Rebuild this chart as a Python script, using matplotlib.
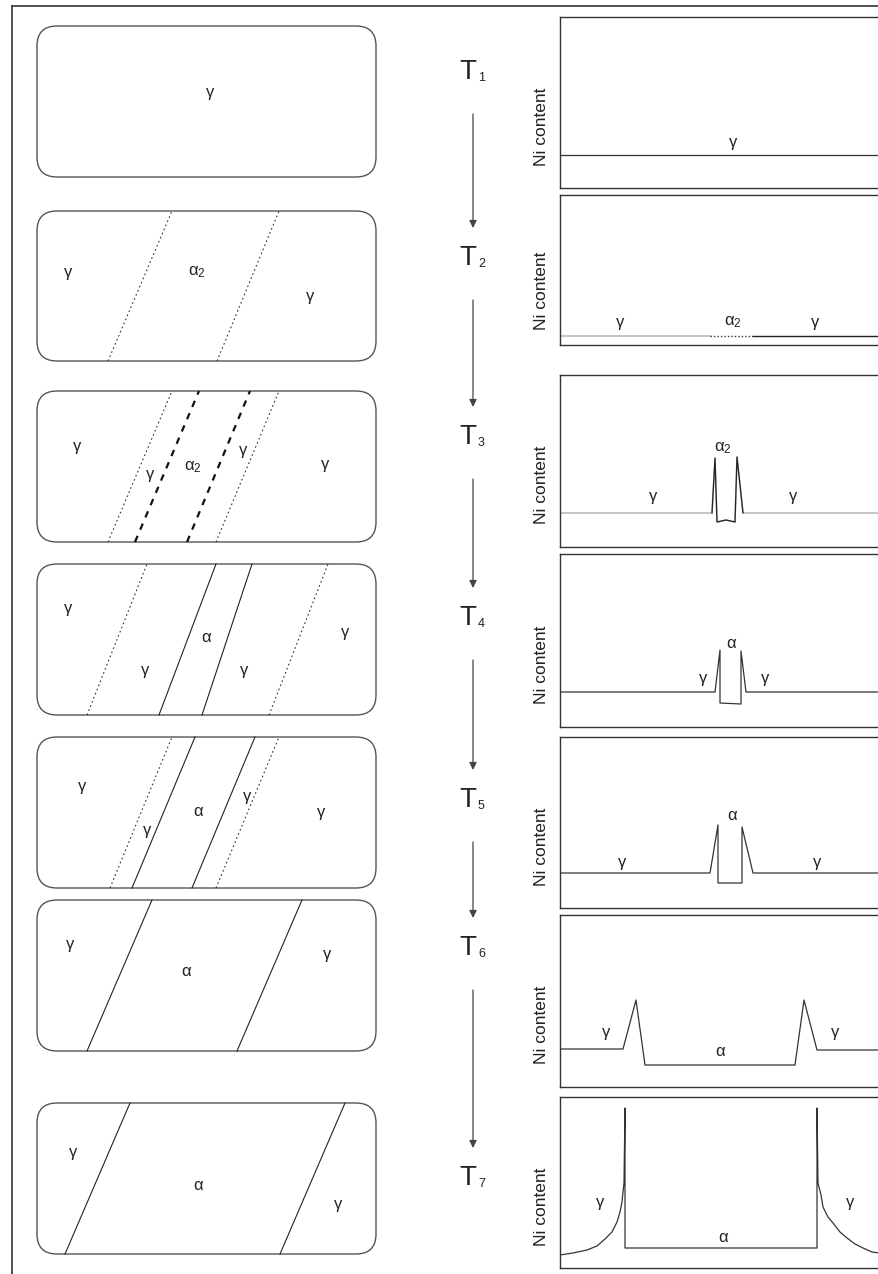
import matplotlib
matplotlib.use('Agg')
import matplotlib.pyplot as plt
from matplotlib.patches import FancyBboxPatch

plt.rcParams['font.family'] = ['Liberation Sans', 'DejaVu Sans']
plt.rcParams['mathtext.fontset'] = 'custom'
plt.rcParams['mathtext.rm'] = 'Liberation Sans'
plt.rcParams['mathtext.it'] = 'Liberation Sans:italic'

W, H = 879, 1274

# stage names
steps = ['1', '2', '3', '4', '5', '6', '7']

# left sketches: interface lines (position at bottom / top of the grain), and their kind
bound_bottom = [[], [71, 180], [71, 98, 150, 179], [50, 122, 165, 232],
                [73, 95, 155, 179], [50, 200], [28, 243]]
bound_top = [[], [135, 242], [135, 162, 213, 242], [110, 179, 215, 291],
             [135, 158, 218, 242], [115, 265], [93, 308]]
bound_kind = [[], ['dot', 'dot'], ['dot', 'dash', 'dash', 'dot'],
              ['dot', 'solid', 'solid', 'dot'], ['dot', 'solid', 'solid', 'dot'],
              ['solid', 'solid'], ['solid', 'solid']]

A2 = r'α$_\mathrm{2}$'
left_labels = [
    [('γ', 173, 85)],
    [('γ', 31, 89), (A2, 160, 89), ('γ', 273, 64)],
    [('γ', 40, 95), ('γ', 113, 67), (A2, 156, 75), ('γ', 206, 92), ('γ', 288, 77)],
    [('γ', 31, 107), ('γ', 108, 45), ('α', 169, 77), ('γ', 207, 45), ('γ', 308, 83)],
    [('γ', 45, 101), ('γ', 110, 57), ('α', 161, 76), ('γ', 210, 91), ('γ', 284, 76)],
    [('γ', 33, 106), ('α', 149, 79), ('γ', 290, 96)],
    [('γ', 36, 102), ('α', 161, 69), ('γ', 301, 49)],
]

# right: Ni content profiles (distance, Ni level)
prof_x = [
    [0, 325],
    [0, 150, 193, 325],
    [0, 152, 155, 157, 166, 175, 177, 183, 325],
    [0, 155, 160, 160, 181, 181, 186, 325],
    [0, 150, 158, 158, 182, 182, 193, 325],
    [0, 63, 76, 85, 235, 244, 257, 325],
    [0, 13, 27, 37, 45, 52, 57, 60, 62, 63, 64, 65, 65,
     257, 257, 258, 261, 263, 268, 273, 280, 287, 295, 303, 312, 319, 325],
]
prof_y = [
    [33, 33],
    [9, 9, 9, 9],
    [34, 34, 89, 25, 27, 25, 90, 34, 34],
    [35, 35, 77, 24, 23, 76, 35, 35],
    [35, 35, 83, 25, 25, 81, 35, 35],
    [38, 38, 87, 22, 22, 87, 37, 37],
    [13, 15, 18, 22, 29, 36, 46, 56, 66, 76, 85, 160, 20,
     20, 160, 85, 73, 61, 51, 45, 36, 30, 24, 20, 16, 15, 14],
]
right_labels = [
    [('γ', 173, 46)],
    [('γ', 60, 23), (A2, 173, 23), ('γ', 255, 23)],
    [(A2, 163, 99), ('γ', 93, 50), ('γ', 233, 50)],
    [('α', 171, 84), ('γ', 143, 49), ('γ', 205, 49)],
    [('α', 172, 92), ('γ', 62, 46), ('γ', 257, 46)],
    [('γ', 46, 54), ('α', 160, 35), ('γ', 275, 54)],
    [('γ', 40, 66), ('α', 163, 31), ('γ', 290, 66)],
]

# layout in pixels (top, bottom)
left_box = [(26, 177), (211, 361), (391, 542), (564, 715), (737, 888), (900, 1051), (1103, 1254)]
right_box = [(17, 188), (195, 345), (375, 547), (554, 727), (737, 908), (915, 1087), (1097, 1268)]
t_y = [72, 258, 437, 618, 800, 948, 1178]
LX0, LX1 = 37, 376
RX0, RX1 = 560, 885
TX = 473

fig = plt.figure(figsize=(W / 100, H / 100), dpi=100)


def px_axes(x0, x1, top, bottom):
    return fig.add_axes([x0 / W, 1 - bottom / H, (x1 - x0) / W, (bottom - top) / H])


bg = fig.add_axes([0, 0, 1, 1])
bg.set_xlim(0, W)
bg.set_ylim(H, 0)
bg.axis('off')
bg.plot([12, 12], [6, H], color='#333', lw=1.2)
bg.plot([12, W], [6, 6], color='#333', lw=1.2)

line_style = {
    'dot': dict(ls=(0, (1.5, 2.5)), lw=0.8, color='#333'),
    'dash': dict(ls=(0, (3, 3)), lw=1.6, color='#111'),
    'solid': dict(ls='-', lw=0.8, color='#222'),
}

for i in range(len(steps)):
    # left sketch
    top, bot = left_box[i]
    w, h = LX1 - LX0, bot - top
    ax = px_axes(LX0, LX1, top, bot)
    ax.set_xlim(0, w)
    ax.set_ylim(0, h)
    ax.axis('off')
    ax.add_patch(FancyBboxPatch((0, 0), w, h, boxstyle='round,pad=0,rounding_size=20',
                                fc='none', ec='#555', lw=1.0, clip_on=False))
    for xb, xt, k in zip(bound_bottom[i], bound_top[i], bound_kind[i]):
        ax.plot([xb, xt], [0, h], clip_on=False, **line_style[k])
    for txt, x, y in left_labels[i]:
        ax.text(x, y, txt, ha='center', va='center', fontsize=12, color='#222')

    # temperature label and arrow
    bg.text(TX - 5, t_y[i], 'T', ha='center', va='center', fontsize=20, color='#222')
    bg.text(TX + 5, t_y[i] + 6, steps[i], ha='left', va='center', fontsize=9, color='#222')
    if i < len(steps) - 1:
        bg.annotate('', xy=(TX, t_y[i + 1] - 30), xytext=(TX, t_y[i] + 42),
                    arrowprops=dict(arrowstyle='-|>', color='#444', lw=0.9,
                                    mutation_scale=11, shrinkA=0, shrinkB=0))

    # right profile
    top, bot = right_box[i]
    h = bot - top
    ax = px_axes(RX0, RX1, top, bot)
    ax.set_xlim(0, RX1 - RX0)
    ax.set_ylim(0, h)
    ax.set_xticks([])
    ax.set_yticks([])
    for s in ax.spines.values():
        s.set_color('#333')
        s.set_linewidth(1.0)
    ax.spines['right'].set_visible(False)
    px, py = prof_x[i], prof_y[i]
    if i == 1:
        ax.plot(px[0:2], py[0:2], color='#bbb', lw=1.2)
        ax.plot(px[1:3], py[1:3], color='#333', lw=1.0, ls=(0, (1, 1.5)))
        ax.plot(px[2:4], py[2:4], color='#222', lw=1.0)
    elif i == 2:
        ax.plot(px, py, color='#bbb', lw=1.2)
        ax.plot(px[1:-1], py[1:-1], color='#222', lw=0.9)
    else:
        ax.plot(px, py, color='#333', lw=0.9)
    for txt, x, y in right_labels[i]:
        ax.text(x, y, txt, ha='center', va='center', fontsize=12, color='#222')
    ax.text(-18 / (RX1 - RX0), 0.36, 'Ni content', transform=ax.transAxes, rotation=90,
            ha='center', va='center', fontsize=12.5, color='#222')

fig.savefig('out.png', dpi=100)
